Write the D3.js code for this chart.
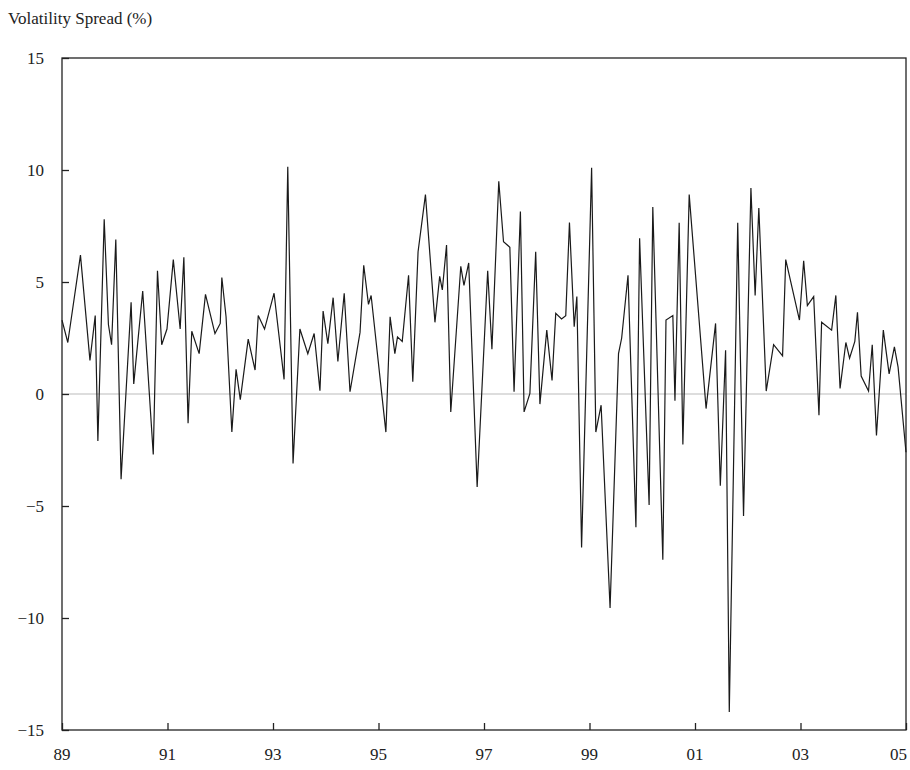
<!DOCTYPE html>
<html>
<head>
<meta charset="utf-8">
<script src="https://cdn.jsdelivr.net/npm/d3@7"></script>
<style>
  body { margin: 0; background: #fff; }
  text { font-family: "Liberation Serif", "DejaVu Serif", serif; fill: #222; }
</style>
</head>
<body>
<svg id="chart" width="910" height="770"></svg>
<script>
// years since Jan 1989
const t = [0,0.11,0.35,0.53,0.63,0.68,0.80,0.88,0.94,1.02,1.12,1.31,1.36,1.53,1.73,1.81,1.89,1.99,2.11,2.24,2.31,2.39,2.46,2.60,2.72,2.90,3.00,3.03,3.11,3.22,3.30,3.38,3.53,3.66,3.72,3.84,4.02,4.21,4.28,4.38,4.51,4.66,4.78,4.89,4.95,5.04,5.14,5.23,5.35,5.46,5.65,5.72,5.81,5.86,6.14,6.22,6.31,6.36,6.45,6.57,6.65,6.75,6.89,7.07,7.16,7.21,7.29,7.37,7.56,7.62,7.71,7.87,8.07,8.15,8.28,8.37,8.49,8.57,8.69,8.76,8.87,8.98,9.06,9.19,9.29,9.36,9.47,9.55,9.62,9.71,9.76,9.85,10.04,10.12,10.22,10.39,10.55,10.61,10.73,10.88,10.95,11.13,11.20,11.39,11.45,11.58,11.62,11.70,11.77,11.89,12.21,12.39,12.48,12.58,12.65,12.81,12.92,13.06,13.14,13.21,13.35,13.49,13.66,13.72,13.98,14.06,14.13,14.25,14.35,14.40,14.59,14.67,14.75,14.86,14.93,15.03,15.08,15.15,15.29,15.36,15.44,15.57,15.68,15.78,15.85,16.00];
const spread = [3.3,2.3,6.2,1.5,3.5,-2.1,7.8,3.1,2.2,6.9,-3.8,4.1,0.45,4.6,-2.7,5.5,2.2,2.9,6.0,2.9,6.1,-1.3,2.8,1.8,4.45,2.7,3.15,5.2,3.45,-1.7,1.1,-0.25,2.45,1.07,3.5,2.9,4.5,0.65,10.15,-3.1,2.9,1.8,2.7,0.15,3.7,2.25,4.3,1.45,4.5,0.1,2.75,5.75,4.0,4.4,-1.7,3.45,1.8,2.55,2.35,5.3,0.55,6.35,8.9,3.2,5.25,4.65,6.65,-0.8,5.7,4.85,5.85,-4.15,5.5,2.0,9.5,6.8,6.55,0.1,8.15,-0.8,0.03,6.35,-0.45,2.85,0.6,3.6,3.35,3.5,7.65,3.0,4.35,-6.85,10.1,-1.7,-0.5,-9.55,1.8,2.5,5.3,-5.95,6.95,-4.95,8.35,-7.4,3.3,3.5,-0.3,7.65,-2.25,8.9,-0.65,3.15,-4.1,1.95,-14.2,7.65,-5.45,9.2,4.4,8.3,0.13,2.2,1.7,6.0,3.3,5.95,3.95,4.35,-0.95,3.2,2.85,4.4,0.25,2.3,1.6,2.35,3.65,0.8,0.13,2.2,-1.85,2.85,0.9,2.1,1.2,-2.6];
const xTicks = [0,2,4,6,8,10,12,14,16];
const xTickLabels = ["89","91","93","95","97","99","01","03","05"];
const yTicks = [-15,-10,-5,0,5,10,15];

const svg = d3.select("#chart");
const L = 62, R = 906, T = 58, B = 730;
const x = d3.scaleLinear().domain([0, 16]).range([L, R]);
const y = d3.scaleLinear().domain([-15, 15]).range([B, T]);

svg.append("text").attr("x", 8).attr("y", 24).attr("font-size", 17)
  .text("Volatility Spread (%)");

// zero line
svg.append("line").attr("x1", L).attr("x2", R).attr("y1", y(0)).attr("y2", y(0))
  .attr("stroke", "#bbb").attr("stroke-width", 1);

const fmt = v => v < 0 ? "\u2212" + Math.abs(v) : String(v);
const yAxis = svg.append("g").attr("transform", `translate(${L},0)`)
  .call(d3.axisRight(y).tickValues(yTicks).tickSize(7).tickFormat(""));
yAxis.select(".domain").remove();
yTicks.forEach(v => svg.append("text").attr("x", 44).attr("y", y(v) + 6)
  .attr("text-anchor", "end").attr("font-size", 17).text(fmt(v)));

const xAxis = svg.append("g").attr("transform", `translate(0,${B})`)
  .call(d3.axisTop(x).tickValues(xTicks).tickSize(7).tickFormat(""));
xAxis.select(".domain").remove();
xTicks.forEach((v, i) => {
  const last = i === xTicks.length - 1;
  svg.append("text").attr("x", last ? R + 1 : x(v)).attr("y", B + 30)
    .attr("text-anchor", last ? "end" : "middle").attr("font-size", 17).text(xTickLabels[i]);
});
svg.selectAll(".tick line").attr("stroke", "#222").attr("stroke-width", 1.3);

svg.append("rect").attr("x", L).attr("y", T).attr("width", R - L).attr("height", B - T)
  .attr("fill", "none").attr("stroke", "#222").attr("stroke-width", 1.3);

const line = d3.line().x((d, i) => x(t[i])).y(d => y(d));
svg.append("path").datum(spread).attr("d", line)
  .attr("fill", "none").attr("stroke", "#1a1a1a").attr("stroke-width", 1.2)
  .attr("stroke-linejoin", "miter");
</script>
</body>
</html>
